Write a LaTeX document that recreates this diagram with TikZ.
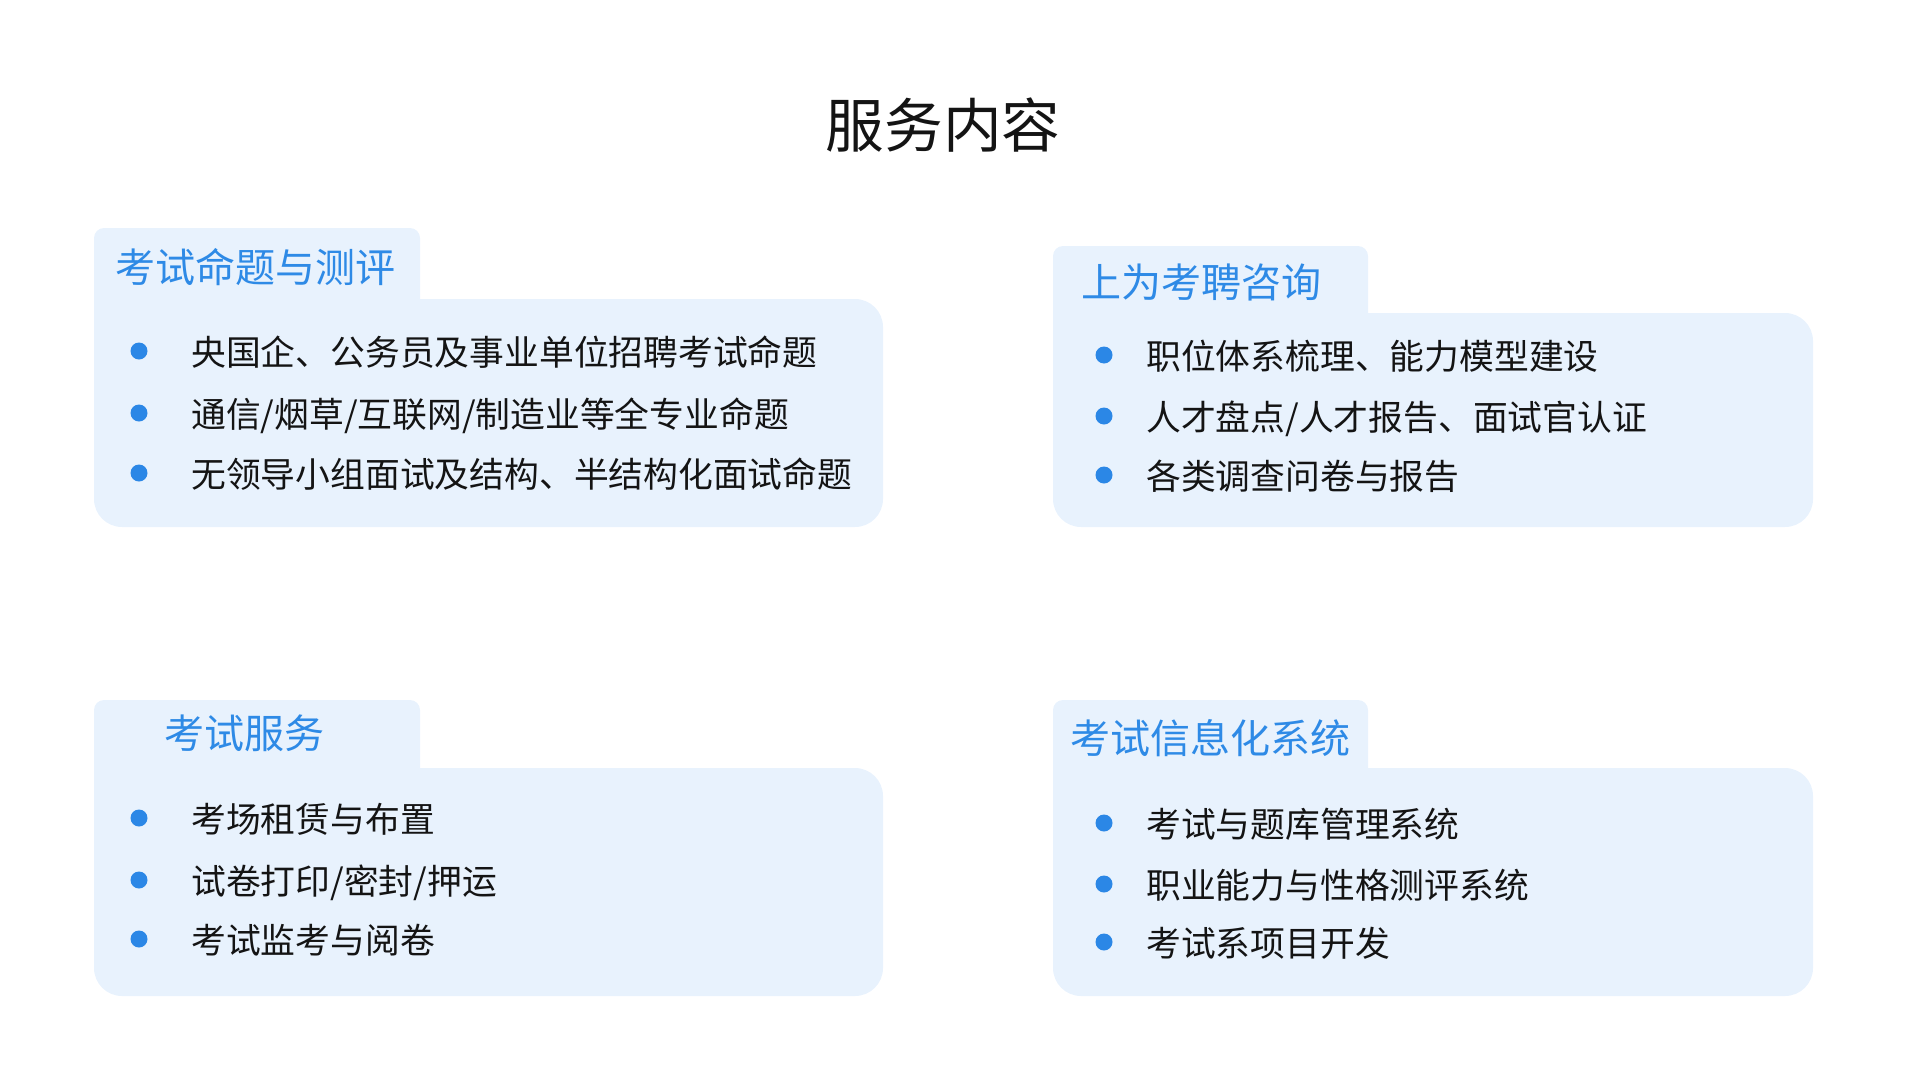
\documentclass[tikz,border=0pt]{standalone}
\usepackage{fontspec}
\setmainfont{Noto Sans CJK SC}
\usepackage{tikz}
\usetikzlibrary{positioning}
\definecolor{cardbg}{HTML}{E8F2FD}
\definecolor{headblue}{HTML}{2E8AE6}
\definecolor{dotblue}{HTML}{2B87E6}
\definecolor{ink}{HTML}{141414}
\begin{document}
\begin{tikzpicture}[x=0.02cm,y=-0.02cm,
    pagetitle/.style={anchor=base,inner sep=0pt,text=ink,font=\fontsize{33.4pt}{38pt}\selectfont},
    cardhead/.style={anchor=base west,inner sep=0pt,text=headblue,font=\fontsize{22.8pt}{27pt}\selectfont},
    item/.style={anchor=base west,inner sep=0pt,text=ink,font=\fontsize{19.8pt}{23pt}\selectfont},
    dot/.style={circle,fill=dotblue,inner sep=0pt,minimum size=0.34cm}]
    \useasboundingbox (0,0) rectangle (1922,1082);
    % card with tab: x0, tab top, tab right, body top, x1, bottom
    \def\card#1#2#3#4#5#6{\fill[cardbg] (#1,#4+40) [rounded corners=0.2cm] -- (#1,#2) -- (#3,#2) [sharp corners] -- (#3,#4) [rounded corners=0.56cm] -- (#5,#4) -- (#5,#6) -- (#1,#6) [sharp corners] -- cycle;}
    \card{94}{228}{420}{299}{883}{527}
    \card{1053}{246}{1368}{313}{1813}{527}
    \card{94}{700}{420}{768}{883}{996}
    \card{1053}{700}{1368}{768}{1813}{996}

    \node[pagetitle] (title) at (943,147) {服务内容};

    \node[cardhead] (headA) at (115,282) {考试命题与测评};
    \node[cardhead] (headB) at (1081,297) {上为考聘咨询};
    \node[cardhead] (headC) at (164,748) {考试服务};
    \node[cardhead] (headD) at (1070,753) {考试信息化系统};

    % items of each card
    \foreach \y/\t [count=\i] in {351/{央国企、公务员及事业单位招聘考试命题},413/{通信/烟草/互联网/制造业等全专业命题},473/{无领导小组面试及结构、半结构化面试命题}}{
        \node[dot] (dotA\i) at (139,\y) {};
        \node[item] (itemA\i) at (191,\y+14) {\t};
    }
    \foreach \y/\t [count=\i] in {355/{职位体系梳理、能力模型建设},416/{人才盘点/人才报告、面试官认证},475/{各类调查问卷与报告}}{
        \node[dot] (dotB\i) at (1104,\y) {};
        \node[item] (itemB\i) at (1146,\y+14) {\t};
    }
    \foreach \y/\t [count=\i] in {818/{考场租赁与布置},880/{试卷打印/密封/押运},939/{考试监考与阅卷}}{
        \node[dot] (dotC\i) at (139,\y) {};
        \node[item] (itemC\i) at (191,\y+14) {\t};
    }
    \foreach \y/\t [count=\i] in {823/{考试与题库管理系统},884/{职业能力与性格测评系统},942/{考试系项目开发}}{
        \node[dot] (dotD\i) at (1104,\y) {};
        \node[item] (itemD\i) at (1146,\y+14) {\t};
    }
\end{tikzpicture}
\end{document}
